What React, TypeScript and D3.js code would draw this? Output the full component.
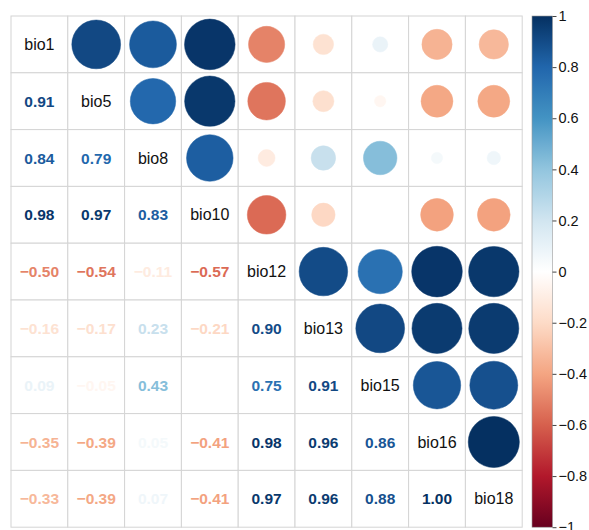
import React, { useEffect, useRef } from 'react';
import * as d3 from 'd3';

const vars = ['bio1', 'bio5', 'bio8', 'bio10', 'bio12', 'bio13', 'bio15', 'bio16', 'bio18'];

// lower triangle rows (row i has i values)
const row1 = [0.91];
const row2 = [0.84, 0.79];
const row3 = [0.98, 0.97, 0.83];
const row4 = [-0.5, -0.54, -0.11, -0.57];
const row5 = [-0.16, -0.17, 0.23, -0.21, 0.9];
const row6 = [0.09, -0.05, 0.43, 0.0, 0.75, 0.91];
const row7 = [-0.35, -0.39, 0.05, -0.41, 0.98, 0.96, 0.86];
const row8 = [-0.33, -0.39, 0.07, -0.41, 0.97, 0.96, 0.88, 1.0];
const lower = [[], row1, row2, row3, row4, row5, row6, row7, row8];

const barTicks = [1, 0.8, 0.6, 0.4, 0.2, 0, -0.2, -0.4, -0.6, -0.8, -1];
const palette = ['#67001F', '#B2182B', '#D6604D', '#F4A582', '#FDDBC7', '#FFFFFF', '#D1E5F0', '#92C5DE', '#4393C3', '#2166AC', '#053061'];

const App = () => {
  const svgRef = useRef(null);

  useEffect(() => {
    const W = 589, H = 530;
    const left = 11, top = 16, cell = 56.8;
    const n = vars.length;
    const size = cell * n;

    const svg = d3.select(svgRef.current);
    svg.selectAll('*').remove();
    svg.attr('width', W).attr('height', H);

    const color = d3.scaleLinear<string>()
      .domain(d3.range(palette.length).map(i => -1 + (2 * i) / (palette.length - 1)))
      .range(palette)
      .interpolate(d3.interpolateRgb);

    const pos = d3.scaleBand().domain(vars).range([0, size]);

    const mat = vars.map((_, i) => vars.map((_, j) => {
      if (i === j) return 1;
      return i > j ? lower[i][j] : lower[j][i];
    }));

    const g = svg.append('g').attr('transform', `translate(${left},${top})`);

    // grid cells
    vars.forEach(ri => {
      vars.forEach(cj => {
        g.append('rect')
          .attr('x', pos(cj)).attr('y', pos(ri))
          .attr('width', pos.bandwidth()).attr('height', pos.bandwidth())
          .attr('fill', 'white')
          .attr('stroke', '#d4d4d4')
          .attr('stroke-width', 1);
      });
    });

    const font = '"Liberation Sans", Arial, sans-serif';

    vars.forEach((ri, i) => {
      vars.forEach((cj, j) => {
        const cx = pos(cj) + pos.bandwidth() / 2;
        const cy = pos(ri) + pos.bandwidth() / 2;
        const v = mat[i][j];
        if (i === j) {
          g.append('text')
            .attr('x', cx).attr('y', cy)
            .attr('text-anchor', 'middle').attr('dominant-baseline', 'central')
            .attr('font-family', font).attr('font-size', 16)
            .attr('fill', '#111')
            .text(ri);
        } else if (i > j) {
          g.append('text')
            .attr('x', cx).attr('y', cy)
            .attr('text-anchor', 'middle').attr('dominant-baseline', 'central')
            .attr('font-family', font).attr('font-size', 15.5).attr('font-weight', 'bold')
            .attr('fill', color(v))
            .text(d3.format('.2f')(v).replace('-', '\u2212'));
        } else {
          const r = Math.sqrt(Math.abs(v)) * pos.bandwidth() * 0.45;
          g.append('circle')
            .attr('cx', cx).attr('cy', cy).attr('r', r)
            .attr('fill', color(v))
            .attr('stroke', color(v)).attr('stroke-width', 0.5);
        }
      });
    });

    // colour bar
    const barX = 532, barW = 20.5;
    const by = d3.scaleLinear().domain([1, -1]).range([top, top + size]);
    const defs = svg.append('defs');
    const grad = defs.append('linearGradient').attr('id', 'cbar')
      .attr('x1', 0).attr('y1', 0).attr('x2', 0).attr('y2', 1);
    d3.range(0, 41).forEach(k => {
      const t = k / 40;
      grad.append('stop').attr('offset', t).attr('stop-color', color(1 - 2 * t));
    });
    svg.append('rect')
      .attr('x', barX).attr('y', top)
      .attr('width', barW).attr('height', size)
      .attr('fill', 'url(#cbar)')
      .attr('stroke', '#999').attr('stroke-width', 0.6);

    const axis = d3.axisRight(by)
      .tickValues(barTicks)
      .tickSize(4)
      .tickFormat(d => (+d === 0 || Math.abs(+d) === 1 ? String(d) : d3.format('.1f')(+d)).replace('-', '\u2212'));
    const ax = svg.append('g')
      .attr('transform', `translate(${barX + barW},0)`)
      .call(axis);
    ax.select('.domain').remove();
    ax.selectAll('line').attr('stroke', '#444');
    ax.selectAll('text')
      .attr('font-family', font).attr('font-size', 14.5)
      .attr('fill', '#111').attr('x', 6);
  }, []);

  return <svg ref={svgRef} style={{ position: 'absolute', left: 0, top: 0 }}></svg>;
};

export default App;
